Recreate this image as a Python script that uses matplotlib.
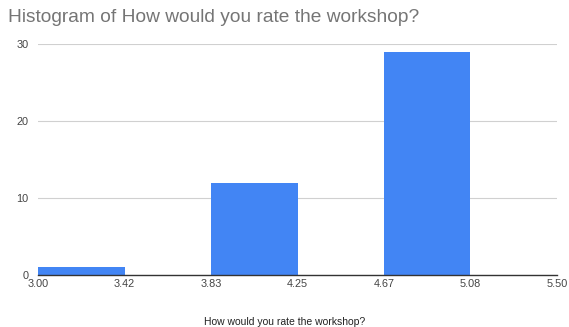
import matplotlib
matplotlib.use("Agg")
import matplotlib.pyplot as plt
import numpy as np

plt.rcParams['font.family'] = ['Liberation Sans', 'DejaVu Sans']

bin_edges = [3.00, 3.4167, 3.8333, 4.25, 4.6667, 5.0833, 5.50]
counts = [1, 0, 12, 0, 29, 0]
tick_labels = ["3.00", "3.42", "3.83", "4.25", "4.67", "5.08", "5.50"]
y_ticks = [0, 10, 20, 30]

fig = plt.figure(figsize=(5.69, 3.27), dpi=100)
ax = fig.add_axes([38/569, 1-275/327, (557-38)/569, (275-44)/327])

edges = np.array(bin_edges)
ax.bar(edges[:-1], counts, width=np.diff(edges), align='edge', color='#4285F4',
       zorder=3, linewidth=0)

ax.set_xlim(bin_edges[0], bin_edges[-1])
ax.set_ylim(0, 30)
ax.set_xticks(bin_edges)
ax.set_xticklabels(tick_labels)
ax.set_yticks(y_ticks)
ax.tick_params(axis='both', length=0, labelsize=7.8, colors='#444444')
ax.tick_params(axis='x', pad=3)
ax.tick_params(axis='y', pad=7)
ax.grid(axis='y', color='#d0d0d0', linewidth=0.8, zorder=0)
for s in ['top', 'right', 'left']:
    ax.spines[s].set_visible(False)
ax.spines['bottom'].set_color('#333333')
ax.spines['bottom'].set_linewidth(1.0)
ax.spines['bottom'].set_zorder(4)

fig.text(285/569, 1-322/327, "How would you rate the workshop?", fontsize=7.5,
         color='#222222', ha='center', va='center')
fig.text(8/569, 1-17/327, "Histogram of How would you rate the workshop?", fontsize=13.8,
         color='#757575', va='center', ha='left')

fig.savefig("out.png", dpi=100)
